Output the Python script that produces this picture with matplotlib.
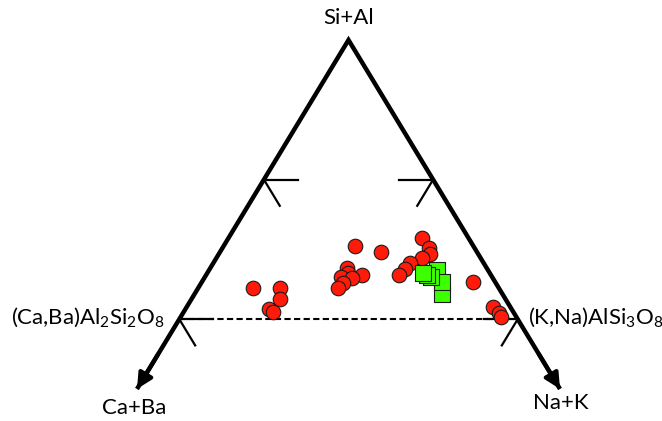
import numpy as np
import matplotlib
matplotlib.use("Agg")
import matplotlib.pyplot as plt

plt.rcParams["font.family"] = ["Lato", "DejaVu Sans"]
plt.rcParams["mathtext.fontset"] = "custom"
plt.rcParams["mathtext.rm"] = "Lato"
plt.rcParams["mathtext.it"] = "Lato:italic"

# compositions as fractions: Si+Al, Ca+Ba, Na+K
red_sial = [0.290, 0.290, 0.258, 0.229, 0.222, 0.411, 0.393, 0.346, 0.332, 0.327,
            0.322, 0.317, 0.303, 0.289, 0.434, 0.405, 0.386, 0.375, 0.360, 0.344,
            0.327, 0.307, 0.234, 0.219, 0.207]
red_caba = [0.581, 0.517, 0.533, 0.573, 0.567, 0.279, 0.227, 0.331, 0.335, 0.304,
            0.357, 0.334, 0.361, 0.380, 0.109, 0.107, 0.114, 0.138, 0.175, 0.194,
            0.217, 0.051, 0.041, 0.034, 0.037]
red_nak = [0.129, 0.193, 0.209, 0.198, 0.211, 0.310, 0.380, 0.323, 0.333, 0.369,
           0.321, 0.349, 0.336, 0.331, 0.457, 0.488, 0.500, 0.487, 0.465, 0.462,
           0.456, 0.642, 0.725, 0.747, 0.756]

green_sial = [0.341, 0.271, 0.306, 0.322, 0.327, 0.332]
green_caba = [0.121, 0.143, 0.125, 0.144, 0.150, 0.157]
green_nak = [0.538, 0.586, 0.569, 0.534, 0.523, 0.511]

feldspar_sial = 0.2   # plagioclase / alkali feldspar join
tick_levels = [0.6, 0.2]

top_label = "Si+Al"
left_label = "Ca+Ba"
right_label = "Na+K"
left_join = r"(Ca,Ba)Al$_2$Si$_2$O$_8$"
right_join = r"(K,Na)AlSi$_3$O$_8$"


def to_xy(sial, nak):
    sial = np.asarray(sial)
    nak = np.asarray(nak)
    return nak + sial / 2, sial


fig = plt.figure(figsize=(6.62, 4.21), dpi=100)
ax = fig.add_axes([0, 0, 1, 1])
ax.set_xlim(-137 / 423, 525 / 423)
ax.set_ylim(-32 / 349, 389 / 349)
ax.axis("off")

# triangle sides, open at the bottom, with arrows to the corners
ax.plot([0, 0.5, 1], [0, 1, 0], color="black", lw=3.2,
        solid_joinstyle="miter", solid_capstyle="butt", zorder=2)
for tip in [(0, 0), (1, 0)]:
    start = (0.5 + (tip[0] - 0.5) * 0.9, 0.1)
    ax.annotate("", xy=tip, xytext=start,
                arrowprops=dict(arrowstyle="-|>,head_length=0.6,head_width=0.3",
                                lw=3, color="black", mutation_scale=15,
                                shrinkA=0, shrinkB=0), zorder=2)

# tick marks on both sides
tick_len = 0.08
diag = 0.075
for lev in tick_levels:
    xl = lev / 2
    xr = 1 - lev / 2
    ax.plot([xl, xl + tick_len], [lev, lev], color="black", lw=1.6, zorder=2)
    ax.plot([xl, xl + diag / 2], [lev, lev - diag], color="black", lw=1.6, zorder=2)
    ax.plot([xr - tick_len, xr], [lev, lev], color="black", lw=1.6, zorder=2)
    ax.plot([xr, xr - diag / 2], [lev, lev - diag], color="black", lw=1.6, zorder=2)

# feldspar join
ax.plot([feldspar_sial / 2, 1 - feldspar_sial / 2], [feldspar_sial, feldspar_sial],
        color="black", lw=1.5, linestyle=(0, (3, 1.6)), zorder=2)

rx, ry = to_xy(red_sial, red_nak)
ax.scatter(rx, ry, s=110, marker="o", facecolor="#ff1a0a", edgecolor="#1a1a1a",
           linewidth=0.8, zorder=3)
gx, gy = to_xy(green_sial, green_nak)
ax.scatter(gx, gy, s=130, marker="s", facecolor="#3cff00", edgecolor="#1a1a1a",
           linewidth=0.8, zorder=4)

fs = 16
ax.text(0.5, 1.063, top_label, ha="center", va="center", fontsize=fs)
ax.text(-0.007, -0.054, left_label, ha="center", va="center", fontsize=fs)
ax.text(1.002, -0.040, right_label, ha="center", va="center", fontsize=fs)
ax.text(0.066, 0.205, left_join, ha="right", va="center", fontsize=fs)
ax.text(0.924, 0.205, right_join, ha="left", va="center", fontsize=fs)

fig.savefig("out.png", dpi=100)
